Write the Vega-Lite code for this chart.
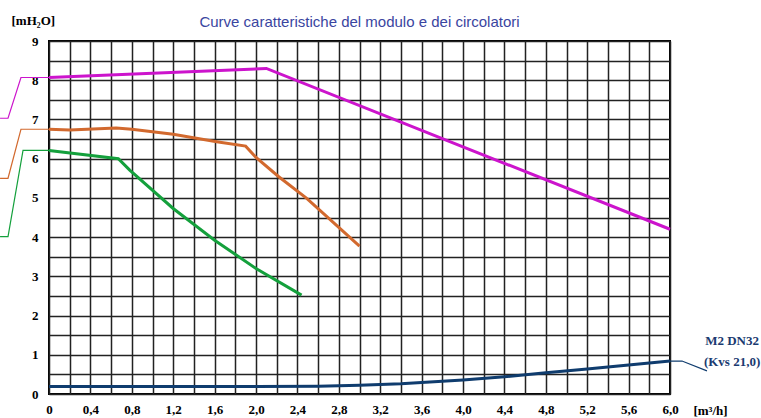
{
  "$schema": "https://vega.github.io/schema/vega-lite/v6.json",
  "width": 621,
  "height": 353,
  "autosize": "none",
  "padding": {"left": 49, "top": 41, "right": 91, "bottom": 24},
  "background": "white",
  "title": {"text": "Curve caratteristiche del modulo e dei circolatori", "font": "Liberation Sans", "fontSize": 15, "fontWeight": "normal", "color": "#3a45a0", "anchor": "middle", "offset": 13, "dy": 29},
  "config": {"view": {"stroke": "#000", "strokeWidth": 2}},
  "datasets": {
    "curves": [
      {"s": "m", "x": 0, "y": 8.07},
      {"s": "m", "x": 2.1, "y": 8.3},
      {"s": "m", "x": 6.0, "y": 4.2},
      {"s": "o", "x": 0, "y": 6.75},
      {"s": "o", "x": 0.2, "y": 6.73},
      {"s": "o", "x": 0.65, "y": 6.78},
      {"s": "o", "x": 0.8, "y": 6.75},
      {"s": "o", "x": 1.2, "y": 6.62},
      {"s": "o", "x": 1.62, "y": 6.43},
      {"s": "o", "x": 1.9, "y": 6.32},
      {"s": "o", "x": 2.0, "y": 6.03},
      {"s": "o", "x": 2.22, "y": 5.54},
      {"s": "o", "x": 2.49, "y": 4.99},
      {"s": "o", "x": 3.0, "y": 3.77},
      {"s": "g", "x": 0, "y": 6.21},
      {"s": "g", "x": 0.67, "y": 6.0},
      {"s": "g", "x": 0.78, "y": 5.71},
      {"s": "g", "x": 1.2, "y": 4.73},
      {"s": "g", "x": 1.6, "y": 3.92},
      {"s": "g", "x": 2.0, "y": 3.2},
      {"s": "g", "x": 2.44, "y": 2.52},
      {"s": "n", "x": 0, "y": 0.19},
      {"s": "n", "x": 1.0, "y": 0.19},
      {"s": "n", "x": 2.0, "y": 0.19},
      {"s": "n", "x": 2.6, "y": 0.2},
      {"s": "n", "x": 3.0, "y": 0.22},
      {"s": "n", "x": 3.4, "y": 0.26},
      {"s": "n", "x": 4.0, "y": 0.36},
      {"s": "n", "x": 4.4, "y": 0.44},
      {"s": "n", "x": 4.8, "y": 0.54},
      {"s": "n", "x": 5.2, "y": 0.64},
      {"s": "n", "x": 5.6, "y": 0.74},
      {"s": "n", "x": 6.0, "y": 0.84}
    ],
    "leaders": [
      {"s": "m", "x": -0.473, "y": 7.03},
      {"s": "m", "x": -0.396, "y": 7.03},
      {"s": "m", "x": -0.271, "y": 8.07},
      {"s": "m", "x": 0, "y": 8.07},
      {"s": "o", "x": -0.473, "y": 5.5},
      {"s": "o", "x": -0.396, "y": 5.5},
      {"s": "o", "x": -0.271, "y": 6.75},
      {"s": "o", "x": 0, "y": 6.75},
      {"s": "g", "x": -0.473, "y": 4.01},
      {"s": "g", "x": -0.396, "y": 4.01},
      {"s": "g", "x": -0.251, "y": 6.21},
      {"s": "g", "x": 0, "y": 6.21},
      {"s": "n", "x": 6.0, "y": 0.84},
      {"s": "n", "x": 6.116, "y": 0.84},
      {"s": "n", "x": 6.357, "y": 0.59}
    ],
    "labels": [
      {"x": 6.6, "y": 1.35, "t": "M2 DN32"},
      {"x": 6.6, "y": 0.82, "t": "(Kvs 21,0)"}
    ]
  },
  "encoding": {
    "x": {
      "field": "x", "type": "quantitative",
      "scale": {"domain": [0, 6], "nice": false, "zero": false},
      "axis": {
        "values": [0, 0.2, 0.4, 0.6, 0.8, 1.0, 1.2, 1.4, 1.6, 1.8, 2.0, 2.2, 2.4, 2.6, 2.8, 3.0, 3.2, 3.4, 3.6, 3.8, 4.0, 4.2, 4.4, 4.6, 4.8, 5.0, 5.2, 5.4, 5.6, 5.8, 6.0],
        "grid": true, "gridColor": "#222", "gridWidth": 1.5,
        "ticks": false, "domain": false,
        "labelExpr": "round(datum.value*10) % 4 == 0 ? (datum.value == 0 ? '0' : replace(format(datum.value, '.1f'), '.', ',')) : ''",
        "labelFont": "Liberation Serif", "labelFontWeight": "bold", "labelFontSize": 13, "labelColor": "#000",
        "labelPadding": 9, "labelFlush": false, "labelOverlap": false,
        "title": "[m³/h]", "titleFont": "Liberation Serif", "titleFontWeight": "bold", "titleFontSize": 13, "titleColor": "#000",
        "titleX": 661, "titleY": 16, "titleAlign": "center", "titleBaseline": "middle"
      }
    },
    "y": {
      "field": "y", "type": "quantitative",
      "scale": {"domain": [0, 9], "nice": false, "zero": false},
      "axis": {
        "values": [0, 0.5, 1, 1.5, 2, 2.5, 3, 3.5, 4, 4.5, 5, 5.5, 6, 6.5, 7, 7.5, 8, 8.5, 9],
        "grid": true, "gridColor": "#222", "gridWidth": 1.5,
        "ticks": false, "domain": false,
        "labelExpr": "round(datum.value*2) % 2 == 0 ? format(datum.value, 'd') : ''",
        "labelFont": "Liberation Serif", "labelFontWeight": "bold", "labelFontSize": 13, "labelColor": "#000",
        "labelPadding": 11, "labelFlush": false, "labelOverlap": false,
        "title": "[mH₂O]", "titleFont": "Liberation Serif", "titleFontWeight": "bold", "titleFontSize": 13, "titleColor": "#000",
        "titleAngle": 0, "titleX": -38, "titleY": -21, "titleAlign": "left", "titleBaseline": "middle"
      }
    }
  },
  "layer": [
    {
      "data": {"name": "leaders"},
      "mark": {"type": "line", "strokeWidth": 1.2},
      "encoding": {
        "color": {"field": "s", "type": "nominal", "scale": {"domain": ["m", "o", "g", "n"], "range": ["#cc14cc", "#d2692e", "#14a03c", "#0f3c6e"]}, "legend": null}
      }
    },
    {
      "data": {"name": "curves"},
      "mark": {"type": "line", "strokeWidth": 3},
      "encoding": {
        "color": {"field": "s", "type": "nominal", "scale": {"domain": ["m", "o", "g", "n"], "range": ["#cc14cc", "#d2692e", "#14a03c", "#0f3c6e"]}, "legend": null}
      }
    },
    {
      "data": {"name": "labels"},
      "mark": {"type": "text", "font": "Liberation Serif", "fontWeight": "bold", "fontSize": 13, "color": "#1a3a70", "align": "center", "baseline": "middle"},
      "encoding": {"text": {"field": "t"}}
    }
  ]
}
